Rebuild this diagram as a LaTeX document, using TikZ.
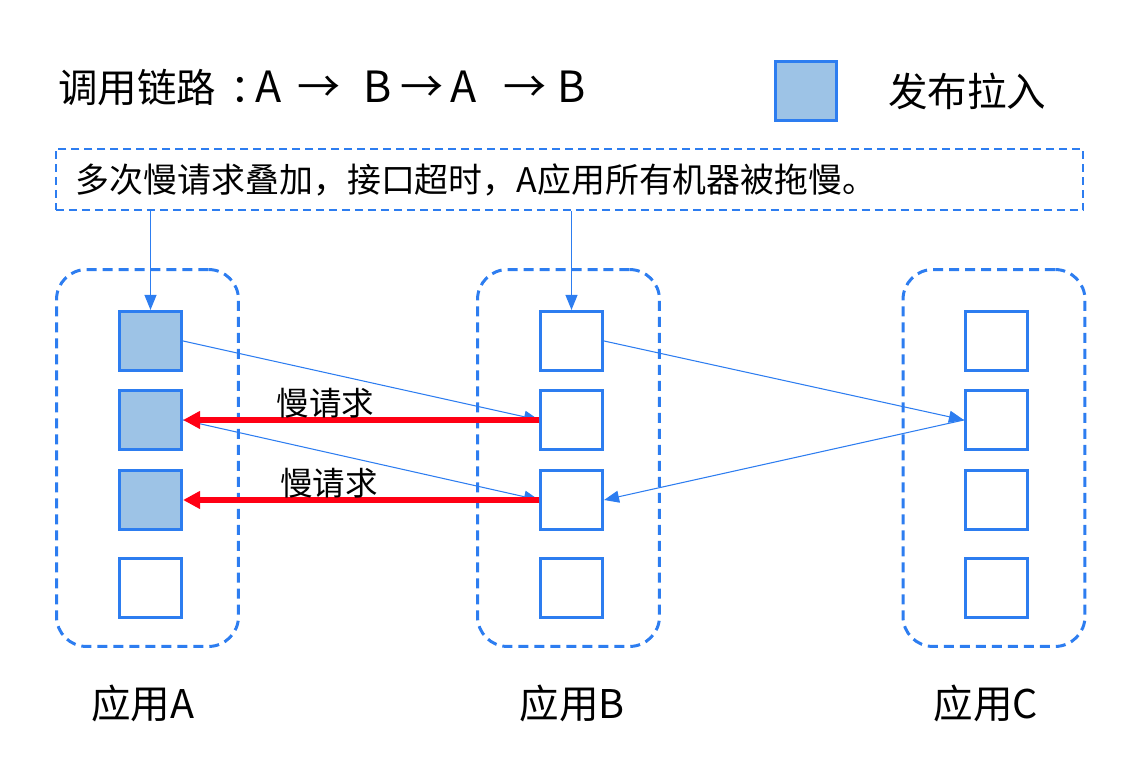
\documentclass[tikz,border=0pt]{standalone}
\usepackage{fontspec}
\setmainfont{Noto Sans CJK SC}
\usetikzlibrary{arrows.meta, positioning}
\definecolor{appblue}{RGB}{45,125,240}
\definecolor{pullfill}{RGB}{157,195,230}
\definecolor{slowred}{RGB}{255,0,20}

\begin{document}
\begin{tikzpicture}
[x=0.02cm, y=-0.02cm,
   call/.style={appblue, line width=0.6pt, arrows={-Triangle[length=0.3cm, width=0.24cm]}},
   slow/.style={slowred, line width=0.12cm, arrows={-Triangle[length=0.34cm, width=0.34cm]}},
   app/.style={shape=rectangle, rounded corners=0.6cm, draw=appblue, line width=1.7pt, dash pattern=on 0.2cm off 0.12cm, minimum width=3.64cm, minimum height=7.54cm},
   host/.style={shape=rectangle, draw=appblue, line width=1.8pt, minimum width=1.24cm, minimum height=1.18cm},
   pulled/.style={host, fill=pullfill},
   note/.style={shape=rectangle, draw=appblue, line width=0.9pt, dash pattern=on 0.16cm off 0.1cm, text width=19.75cm, inner xsep=0.4cm, minimum height=1.23cm, align=left},
   big/.style={font=\fontsize{22.5}{27}\selectfont},
   small/.style={font=\fontsize{19.3}{23}\selectfont},
   slowtext/.style={black, font=\fontsize{18.5}{22}\selectfont}]
\useasboundingbox (0,0) rectangle (1140,766);
% title and legend
\node[big, anchor=west, inner sep=0] (title) at (58,88) {调用链路\hspace{0.28cm}：\hspace{-0.3cm}{\fontsize{24.5}{29}\selectfont A\hspace{0.32cm}→\hspace{0.47cm}B\hspace{0.18cm}→\hspace{0.12cm}A\hspace{0.54cm}→\hspace{0.22cm}B}};
\node[pulled, minimum width=1.22cm] (legend) at (806,91) {};
\node[big, anchor=west, inner sep=0] (legendtext) at (888,91) {发布拉入};
\node[note, small] (remark) at (569.5,179.5) {多次慢请求叠加，接口超时，A应用所有机器被拖慢。};
% applications
\node[app] (appA) at (147.5,458) {};
\node[app] (appB) at (568.5,458) {};
\node[app] (appC) at (994,458) {};
\node[big] (labelA) at (143,703) {应用A};
\node[big] (labelB) at (572,703) {应用B};
\node[big] (labelC) at (986,703) {应用C};
% machines
\node[pulled] (A1) at (150.5,341) {};
\node[pulled] (A2) at (150.5,420) {};
\node[pulled] (A3) at (150.5,500) {};
\node[host] (A4) at (150.5,588) {};
\node[host] (B1) at (571.5,341) {};
\node[host] (B2) at (571.5,420) {};
\node[host] (B3) at (571.5,500) {};
\node[host] (B4) at (571.5,588) {};
\node[host] (C1) at (996.5,341) {};
\node[host] (C2) at (996.5,420) {};
\node[host] (C3) at (996.5,500) {};
\node[host] (C4) at (996.5,588) {};
% calls
\draw [call] (remark.south -| A1) to (A1.north);
\draw [call] (remark.south -| B1) to (B1.north);
\draw [call] (A1.east) to (B2.west);
\draw [call] (A2.east) to (B3.west);
\draw [call] (B1.east) to (C2.west);
\draw [call] (C2.west) to (B3.east);
\draw [slow] (B2.west) to node[slowtext, pos=0.6, above=-4pt] (slow1) {慢请求} (A2.east);
\draw [slow] (B3.west) to node[slowtext, pos=0.59, above=-4pt] (slow2) {慢请求} (A3.east);
\end{tikzpicture}
\end{document}
